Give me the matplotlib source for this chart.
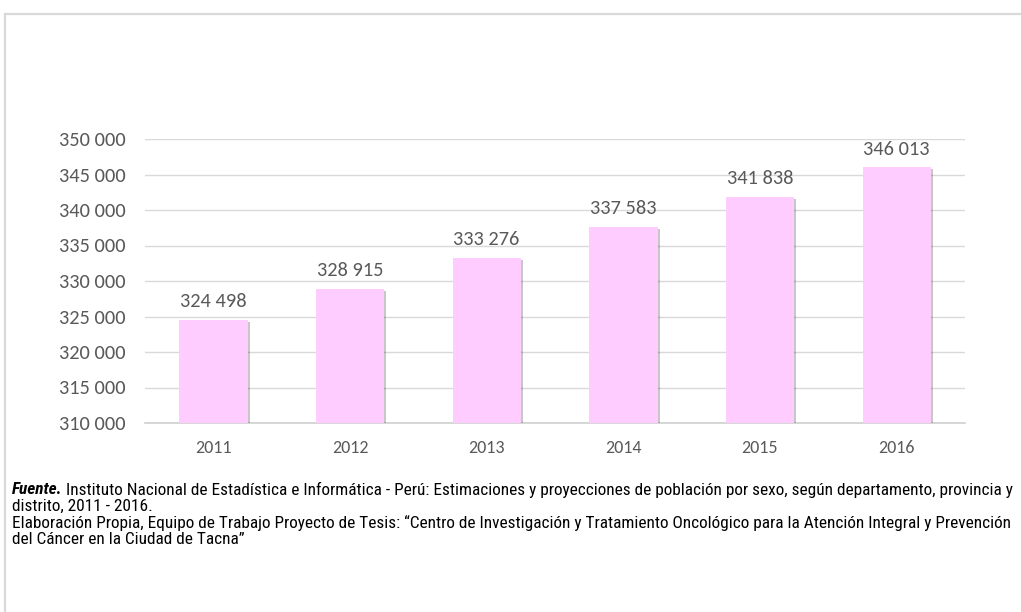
import matplotlib
matplotlib.use("Agg")
import matplotlib.pyplot as plt
from matplotlib import font_manager
from matplotlib.patches import Rectangle
import matplotlib.patheffects as pe

years = ["2011", "2012", "2013", "2014", "2015", "2016"]
population = [324498, 328915, 333276, 337583, 341838, 346013]
yticks = [310000, 315000, 320000, 325000, 330000, 335000, 340000, 345000, 350000]

line1_bold = "Fuente."
line1 = "Instituto Nacional de Estadística e Informática - Perú: Estimaciones y proyecciones de población por sexo, según departamento, provincia y"
line2 = "distrito, 2011 - 2016."
line3 = "Elaboración Propia, Equipo de Trabajo Proyecto de Tesis: \u201cCentro de Investigación y Tratamiento Oncológico para la Atención Integral y Prevención"
line4 = "del Cáncer en la Ciudad de Tacna\u201d"

names = {f.name for f in font_manager.fontManager.ttflist}

def pick(cands, default):
    for c in cands:
        if c in names:
            return c
    return default

main_font = pick(["Carlito", "Lato"], "DejaVu Sans")
narrow = pick(["Roboto Condensed", "Archivo Narrow", "PT Sans Narrow"], "DejaVu Sans")

def fmt(v):
    return f"{v:,}".replace(",", " ")

W, H = 1021, 612
fig = plt.figure(figsize=(W / 100, H / 100), dpi=100)
fig.patch.set_facecolor("white")

# outer frame
fig.patches.append(Rectangle((5 / W, -0.1), 1.2, 1 - 14 / H + 0.1, transform=fig.transFigure,
                             fill=False, edgecolor="#D9D9D9", linewidth=1.6, zorder=0))

ax = fig.add_axes([145 / W, 1 - 423 / H, 820 / W, 284 / H])
x = range(len(years))
bars = ax.bar(x, population, width=0.5, color="#FFCCFF", zorder=3)
for b in bars:
    b.set_path_effects([pe.SimplePatchShadow(offset=(1.5, -1.5), shadow_rgbFace="#000000", alpha=0.22),
                        pe.Normal()])

ax.set_ylim(310000, 350000)
ax.set_xlim(-0.5, len(years) - 0.5)
ax.set_yticks(yticks)
ax.set_yticklabels([fmt(v) for v in yticks], fontsize=14.7, color="#595959", family=main_font)
ax.set_xticks(list(x))
ax.set_xticklabels(years, fontsize=13, color="#595959", family=main_font)
ax.tick_params(axis="both", length=0)
ax.tick_params(axis="y", pad=14)
ax.tick_params(axis="x", pad=12)
ax.grid(axis="y", color="#D9D9D9", linewidth=1, zorder=0)
for s in ["top", "right", "left"]:
    ax.spines[s].set_visible(False)
ax.spines["bottom"].set_color("#D0D0D0")
ax.spines["bottom"].set_linewidth(1.2)

for xi, v in zip(x, population):
    ax.annotate(fmt(v), (xi, v), xytext=(0, 7), textcoords="offset points",
                ha="center", va="bottom", fontsize=14.7, color="#595959", family=main_font)

# footnote: size from the width of line 3 at a probe size
ty = [490, 506, 523, 539]
gap = 3
probe = fig.text(12 / W, 0.5, line3, family=narrow, fontsize=10)
fig.canvas.draw()
w = probe.get_window_extent().width
probe.remove()
fs = 10 * (1008 - 12) / w
fkw = dict(family=narrow, fontsize=fs, va="center", color="#000000")

t0 = fig.text(12 / W, 1 - ty[0] / H, line1_bold, fontweight="bold", style="italic", **fkw)
fig.canvas.draw()
bb = t0.get_window_extent()
fig.text((bb.x1 + gap) / W, 1 - ty[0] / H, line1, **fkw)
fig.text(12 / W, 1 - ty[1] / H, line2, **fkw)
fig.text(12 / W, 1 - ty[2] / H, line3, **fkw)
fig.text(12 / W, 1 - ty[3] / H, line4, **fkw)

fig.savefig("out.png", dpi=100, facecolor="white")
